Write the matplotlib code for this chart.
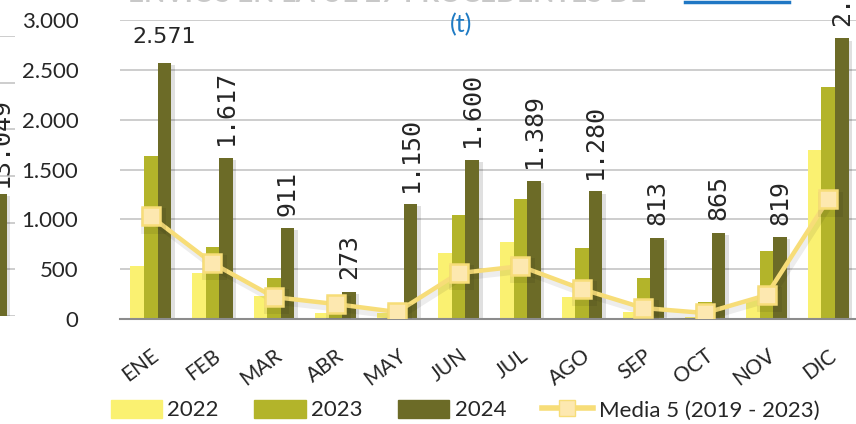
import matplotlib
matplotlib.use("Agg")
import matplotlib.pyplot as plt
import matplotlib.patheffects as pe
from matplotlib.lines import Line2D
from matplotlib.patches import Patch
import numpy as np

# ---- data ----
months = ["ENE", "FEB", "MAR", "ABR", "MAY", "JUN", "JUL", "AGO", "SEP", "OCT", "NOV", "DIC"]
v2022 = [530, 460, 230, 60, 60, 660, 770, 220, 70, 20, 190, 1700]
v2023 = [1640, 720, 410, 130, 40, 1040, 1200, 710, 410, 170, 680, 2330]
v2024 = [2571, 1617, 911, 273, 1150, 1600, 1389, 1280, 813, 865, 819, 2815]
media5 = [1030, 560, 220, 150, 70, 460, 530, 300, 110, 60, 240, 1200]
yticks = [0, 500, 1000, 1500, 2000, 2500, 3000]

# neighbouring panel (annual total)
prev_total = [13049]
prev_ticks = [0, 5000, 10000, 15000, 20000, 25000, 30000]

title_text = "ENVÍOS EN LA UE 27 PROCEDENTES DE"
unit_text = "(t)"
series_labels = ["2022", "2023", "2024", "Media 5 (2019 - 2023)"]

# ---- style ----
C22, C23, C24 = "#FAF171", "#B3B42A", "#6C6B27"
CLINE, CMARK = "#F7DD78", "#FDE8B0"
GRID = "#C9C9C9"
TXT = "#262626"
plt.rcParams["font.family"] = ["Lato", "DejaVu Sans"]

W, H = 856, 424
fig = plt.figure(figsize=(W / 100, H / 100), dpi=100)

shadow = [pe.SimplePatchShadow(offset=(2.5, -1.5), shadow_rgbFace="#000000", alpha=0.12), pe.Normal()]
lshadow = [pe.SimpleLineShadow(offset=(1.5, -3), shadow_color="#000000", alpha=0.07, linewidth=5), pe.Normal()]


def fmt(v):
    return f"{v:,}".replace(",", ".")


# ---- partial neighbouring chart on the left ----
axp = fig.add_axes([-100 / W, 1 - 316 / H, 115 / W, (316 - 36) / H])
axp.set_ylim(0, 30000)
axp.set_xlim(-5.49, 0.75)
axp.set_yticks(prev_ticks)
axp.yaxis.grid(True, color=GRID, linewidth=1.3)
axp.set_axisbelow(True)
axp.bar([0], prev_total, width=0.6, color=C24, path_effects=shadow)
for xv, v in zip([0], prev_total):
    axp.annotate(fmt(v), (xv, v), xytext=(0, 5), textcoords="offset points",
                 rotation=90, ha="center", va="bottom", fontsize=18,
                 family="DejaVu Sans Mono", color=TXT, annotation_clip=False)
axp.tick_params(left=False, bottom=False, labelleft=False, labelbottom=False)
for s in axp.spines.values():
    s.set_visible(False)

# ---- main chart ----
left, right, top, bottom = 120, 859, 20, 319
ax = fig.add_axes([left / W, 1 - bottom / H, (right - left) / W, (bottom - top) / H])
x = np.arange(len(months))
bw = 0.22
ax.bar(x - bw, v2022, width=bw, color=C22, path_effects=shadow, zorder=2)
ax.bar(x, v2023, width=bw, color=C23, path_effects=shadow, zorder=2)
ax.bar(x + bw, v2024, width=bw, color=C24, path_effects=shadow, zorder=2)
ax.plot(x, media5, color=CLINE, linewidth=3.2, marker="s", markersize=13,
        markerfacecolor=CMARK, markeredgecolor=CLINE, markeredgewidth=1.8,
        path_effects=lshadow, zorder=3)

ax.set_xlim(-0.5, len(months) - 0.5)
ax.set_ylim(0, 3000)
ax.set_yticks(yticks)
ax.set_yticklabels([fmt(v) for v in yticks], fontsize=16, color=TXT)
ax.tick_params(axis="y", length=0, pad=30)
ax.set_xticks(x)
ax.set_xticklabels(months, rotation=37, ha="right", va="top", rotation_mode="anchor",
                   fontsize=15, color=TXT)
ax.tick_params(axis="x", length=0, pad=19)
ax.yaxis.grid(True, color=GRID, linewidth=1.3, zorder=0)
ax.set_axisbelow(True)
for s in ["left", "right", "top"]:
    ax.spines[s].set_visible(False)
ax.spines["bottom"].set_color("#8C8C8C")
ax.spines["bottom"].set_linewidth(1.5)

# value labels on the 2024 bars
for i, v in enumerate(v2024):
    if i == 0:
        ax.annotate(fmt(v), (x[i] + bw, v), xytext=(0, 11), textcoords="offset points",
                    ha="center", va="bottom", fontsize=16, family="DejaVu Sans",
                    color=TXT, annotation_clip=False)
    else:
        ax.annotate(fmt(v), (x[i] + bw, v), xytext=(0, 9), textcoords="offset points",
                    rotation=90, ha="center", va="bottom", fontsize=18,
                    family="DejaVu Sans Mono", color=TXT, annotation_clip=False)

# ---- heading (runs off the top edge) ----
fig.text(128 / W, 1 - 1.5 / H, title_text, fontsize=20, fontweight="bold", color="#C8C8C8",
         ha="left", va="baseline")
fig.add_artist(Line2D([685 / W, 789 / W], [1 - 2 / H, 1 - 2 / H], color="#1F77C4", linewidth=2.5))
fig.text(461 / W, 1 - 25 / H, unit_text, fontsize=18, color="#1F7BC4", ha="center", va="center")

# ---- legend ----
handles = [Patch(color=C22), Patch(color=C23), Patch(color=C24),
           Line2D([], [], color=CLINE, linewidth=4, marker="s", markersize=11,
                  markerfacecolor=CMARK, markeredgecolor=CLINE)]
fig.legend(handles, series_labels, loc="center", bbox_to_anchor=(465 / W, 1 - 410 / H),
           ncol=4, frameon=False, fontsize=16, handlelength=2.3, handleheight=0.9,
           handletextpad=0.25, columnspacing=1.6, labelcolor=TXT)

fig.savefig("out.png", dpi=100)
